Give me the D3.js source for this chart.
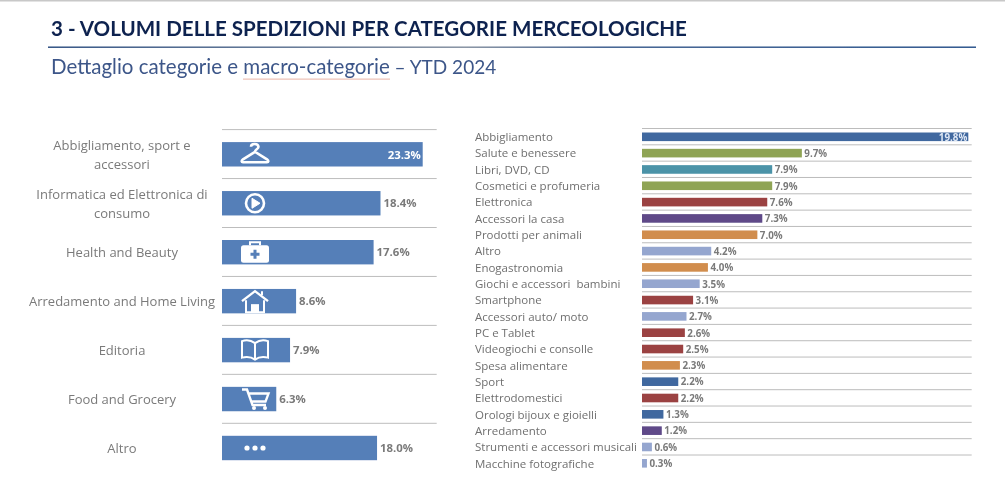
<!DOCTYPE html>
<html><head><meta charset="utf-8">
<script src="https://cdn.jsdelivr.net/npm/d3@7"></script>
<style>html,body{margin:0;padding:0;background:#fff;overflow:hidden}svg{display:block}</style>
</head><body><svg id="c" width="1005" height="485"></svg>
<script>
const macroCategories=["Abbigliamento, sport e|accessori","Informatica ed Elettronica di|consumo","Health and Beauty","Arredamento and Home Living","Editoria","Food and Grocery","Altro"];
const macroValues=[23.3,18.4,17.6,8.6,7.9,6.3,18.0];
const macroIcons=["hanger","play","kit","house","book","cart","dots"];
const detailCategories=["Abbigliamento","Salute e benessere","Libri, DVD, CD","Cosmetici e profumeria","Elettronica","Accessori la casa","Prodotti per animali","Altro","Enogastronomia","Giochi e accessori  bambini","Smartphone","Accessori auto/ moto","PC e Tablet","Videogiochi e consolle","Spesa alimentare","Sport","Elettrodomestici","Orologi bijoux e gioielli","Arredamento","Strumenti e accessori musicali","Macchine fotografiche"];
const detailValues=[19.8,9.7,7.9,7.9,7.6,7.3,7.0,4.2,4.0,3.5,3.1,2.7,2.6,2.5,2.3,2.2,2.2,1.3,1.2,0.6,0.3];
const detailGroups=["blue","green","teal","green","red","purple","orange","light","orange","light","red","light","red","red","orange","blue","red","blue","purple","light","light"];
const groupColors={blue:"#41689f",green:"#8fa454",teal:"#4b93a8",red:"#9b4343",purple:"#5e4a88",orange:"#d18d4e",light:"#95a6cf"};

const svg=d3.select("#c");
const defs=svg.append("defs");
const g=defs.append("linearGradient").attr("id","rule");
[[0,"#24477c"],[.3,"#5f7390"],[.45,"#7f8b9c"],[.6,"#35578a"],[1,"#1f4a85"]].forEach(s=>g.append("stop").attr("offset",s[0]).attr("stop-color",s[1]));
defs.append("filter").attr("id","soft").attr("x","-5%").attr("y","-5%").attr("width","110%").attr("height","110%")
  .append("feGaussianBlur").attr("stdDeviation",0.4);
const root=svg.append("g").attr("filter","url(#soft)");

// header
root.append("rect").attr("x",0).attr("y",0).attr("width",1005).attr("height",1.5).attr("fill","#c8c8c8");
root.append("text").attr("x",51).attr("y",36).attr("font-family","Lato").attr("font-weight",700)
  .attr("font-size",20.55).attr("fill","#10234f").text("3 - VOLUMI DELLE SPEDIZIONI PER CATEGORIE MERCEOLOGICHE");
root.append("rect").attr("x",48).attr("y",46.5).attr("width",928).attr("height",1.4).attr("fill","url(#rule)");
const sub=root.append("text").attr("x",51).attr("y",74).attr("font-family","Lato").attr("font-size",20.5).attr("fill","#3c5689");
sub.append("tspan").text("Dettaglio categorie e macro-categorie");
sub.append("tspan").attr("font-size",19).text(" – YTD 2024");
root.append("rect").attr("x",243).attr("y",78.6).attr("width",147).attr("height",1).attr("fill","#e9b4a6");

// left chart
const xL=d3.scaleLinear().domain([0,23.3]).range([222,422.7]);
const yL=d3.scalePoint().domain(macroCategories).range([154.3,448]);
const barL=24.4, barColor="#557fb8";
const left=root.append("g");
const ruleYs=macroCategories.map(c=>yL(c)-24.7);
left.selectAll("line").data(ruleYs).join("line").attr("x1",222).attr("x2",436.7)
  .attr("y1",d=>d).attr("y2",d=>d).attr("stroke","#bdbdbd").attr("stroke-width",1);
left.selectAll("rect.b").data(macroCategories).join("rect").attr("class","b")
  .attr("x",xL(0)).attr("y",c=>yL(c)-barL/2).attr("height",barL)
  .attr("width",(c,i)=>xL(macroValues[i])-xL(0)).attr("fill",barColor);
left.selectAll("text.l").data(macroCategories).join("text").attr("class","l")
  .attr("text-anchor","middle").attr("font-family","Open Sans").attr("font-size",13).attr("fill","#7a7a7a")
  .each(function(c){
    const parts=c.split("|"), cx=122;
    parts.forEach((p,i)=>d3.select(this).append("tspan").attr("x",cx)
      .attr("y",yL(c)+5-(parts.length-1)*9.2+i*18.6).text(p));
  });
left.selectAll("text.v").data(macroValues).join("text").attr("class","v")
  .attr("x",(v,i)=>i===0?xL(v)-2:xL(v)+3).attr("y",(v,i)=>yL(macroCategories[i])+4.2)
  .attr("text-anchor",(v,i)=>i===0?"end":"start").attr("font-family","Open Sans").attr("font-weight",700)
  .attr("font-size",11.4).attr("fill",(v,i)=>i===0?"#fff":"#7a7a7a").text(v=>v.toFixed(1)+"%");

// white icons, drawn around the centre of each bar
const icon=left.selectAll("g.i").data(macroIcons).join("g").attr("class","i")
  .attr("transform",(d,i)=>`translate(255,${yL(macroCategories[i])})`)
  .attr("fill","none").attr("stroke","#fff").attr("stroke-width",2);
const draw={
 hanger(s){s.append("path").attr("d","M-4-7.5C-4-11 3-11.5 3.5-7.5C3.5-5 0-5 0-2.5L12 5C14 6.5 13.5 8 12 8H-12C-13.5 8-14 6.5-12 5L0-2.5").attr("stroke-width",2.6);},
 play(s){s.append("circle").attr("r",9).attr("stroke-width",2.6);s.append("path").attr("d","M-3-5L5 0L-3 5Z").attr("fill","#fff").attr("stroke-width",1);},
 kit(s){s.append("path").attr("d","M-5-7V-10H5V-7").attr("stroke-width",2);
   s.append("rect").attr("x",-14).attr("y",-7).attr("width",28).attr("height",17.5).attr("rx",2.5).attr("fill","#fff").attr("stroke","none");
   s.append("path").attr("d","M-4.5 2H4.5M0-2.5V6.5").attr("stroke",barColor).attr("stroke-width",3);},
 house(s){s.append("path").attr("d","M-13 0L0-10L13 0").attr("stroke-width",2.4);
   s.append("path").attr("d","M-9-1V11H9V-1M7-6V-10").attr("stroke-width",2);
   s.append("rect").attr("x",-4).attr("y",3).attr("width",8).attr("height",8).attr("fill","#fff").attr("stroke","none");},
 book(s){s.append("path").attr("d","M0-7C-4-10-9-10.5-13-9V7.5C-9 6.5-4 6.5 0 9.5C4 6.5 9 6.5 13 7.5V-9C9-10.5 4-10 0-7V9.5").attr("stroke-width",2);},
 cart(s){s.append("path").attr("d","M-13-9.5H-8L-2.5 6H11M-6.5-5.5H13.5L10.5 2.5H-4").attr("stroke-width",2.4);
   s.append("circle").attr("cx",-1).attr("cy",9).attr("r",2).attr("fill","#fff").attr("stroke","none");
   s.append("circle").attr("cx",10).attr("cy",9).attr("r",2).attr("fill","#fff").attr("stroke","none");},
 dots(s){[-8,0,8].forEach(x=>s.append("circle").attr("cx",x).attr("r",2.6).attr("fill","#fff").attr("stroke","none"));}
};
icon.each(function(d){draw[d](d3.select(this));});

// right chart
const xR=d3.scaleLinear().domain([0,19.8]).range([642,968.3]);
const yR=d3.scalePoint().domain(detailCategories).range([136.8,463.3]);
const barR=8.6;
const right=root.append("g");
right.selectAll("line").data(detailCategories).join("line").attr("x1",642).attr("x2",971.7)
  .attr("y1",c=>yR(c)-8.3).attr("y2",c=>yR(c)-8.3).attr("stroke","#bcbcbc").attr("stroke-width",1);
right.selectAll("rect").data(detailCategories).join("rect")
  .attr("x",xR(0)).attr("y",c=>yR(c)-barR/2).attr("height",barR)
  .attr("width",(c,i)=>xR(detailValues[i])-xR(0)).attr("fill",(c,i)=>groupColors[detailGroups[i]]);
right.selectAll("text.l").data(detailCategories).join("text").attr("class","l")
  .attr("x",475).attr("y",c=>yR(c)+4.3).attr("xml:space","preserve").style("white-space","pre")
  .attr("font-family","Open Sans").attr("font-size",11.5).attr("fill","#6f6f6f").text(c=>c);
right.selectAll("text.v").data(detailValues).join("text").attr("class","v")
  .attr("x",(v,i)=>i===0?xR(v)-1:xR(v)+2.5).attr("y",(v,i)=>yR(detailCategories[i])+3.8)
  .attr("text-anchor",(v,i)=>i===0?"end":"start").attr("font-family","Open Sans").attr("font-weight",700)
  .attr("font-size",9.8).attr("fill",(v,i)=>i===0?"#dfe8f5":"#7a7a7a").text(v=>v.toFixed(1)+"%");
</script></body></html>
